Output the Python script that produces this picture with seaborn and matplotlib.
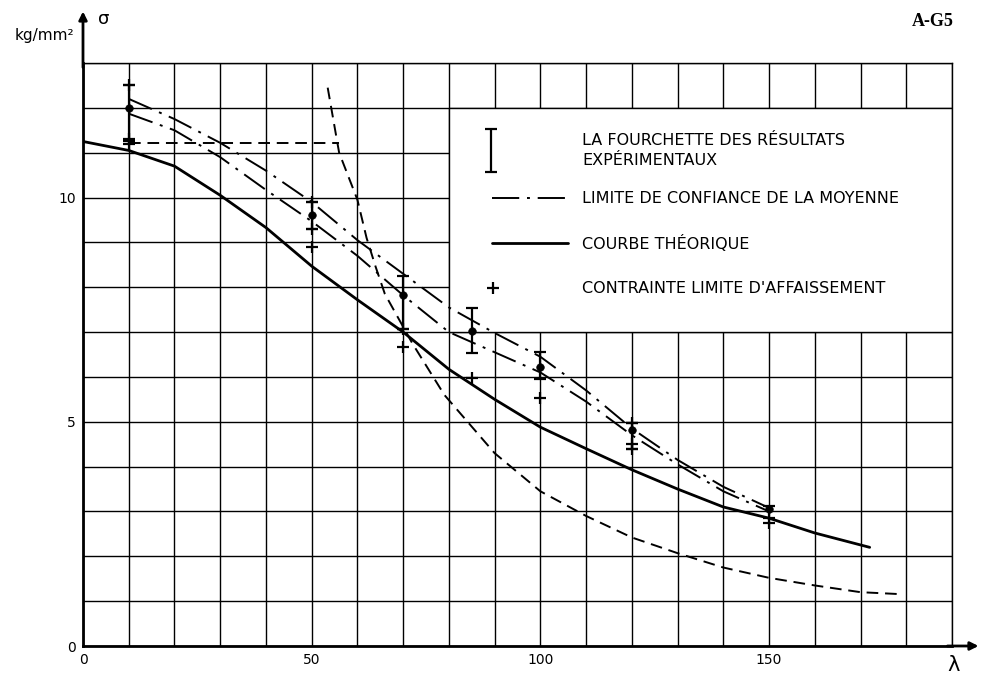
import matplotlib
matplotlib.use("Agg")
import matplotlib.pyplot as plt
import seaborn as sns
import pandas as pd
from matplotlib.patches import Rectangle

# courbe théorique
theo_x = [0, 10, 20, 30, 40, 50, 60, 70, 80, 90, 100, 110, 120, 130, 140, 150, 160, 172]
theo_y = [11.25, 11.05, 10.7, 10.05, 9.33, 8.47, 7.72, 7.0, 6.17, 5.5, 4.88, 4.4, 3.93, 3.5, 3.1, 2.85, 2.52, 2.2]

# limites de confiance de la moyenne
conf_x = [10, 20, 30, 40, 50, 60, 70, 80, 90, 100, 110, 120, 130, 140, 150]
conf_hi = [12.2, 11.75, 11.22, 10.6, 9.9, 9.05, 8.3, 7.55, 6.98, 6.45, 5.7, 4.85, 4.15, 3.55, 3.08]
conf_lo = [11.87, 11.5, 10.9, 10.17, 9.47, 8.7, 7.82, 7.0, 6.55, 6.1, 5.45, 4.7, 4.05, 3.45, 3.0]

# courbe en tirets (Euler) + palier horizontal
euler_x = [53.5, 56, 60, 62, 64, 66, 69, 72, 79, 90, 100, 110, 120, 130, 140, 150, 160, 170, 178]
euler_y = [12.45, 11.0, 9.95, 9.1, 8.45, 7.85, 7.3, 6.75, 5.6, 4.3, 3.45, 2.9, 2.42, 2.07, 1.75, 1.52, 1.35, 1.2, 1.16]
palier_x = [10, 56]
palier_y = [11.22, 11.22]

# fourchette des résultats expérimentaux
bar_x = [10, 50, 70, 85, 100, 120, 150]
bar_lo = [11.25, 9.3, 7.07, 6.53, 5.95, 4.4, 2.85]
bar_hi = [12.5, 9.9, 8.25, 7.53, 6.56, 4.98, 3.12]
bar_mean = [12.0, 9.6, 7.82, 7.02, 6.23, 4.82, 3.05]

# contrainte limite d'affaissement
plus_x = [10, 10, 10, 50, 50, 50, 70, 70, 85, 100, 120, 120, 120, 150]
plus_y = [12.5, 11.3, 11.2, 9.9, 9.3, 8.9, 7.07, 6.67, 5.97, 5.53, 4.98, 4.5, 4.4, 2.75]

legend_labels = ["LA FOURCHETTE DES RÉSULTATS\nEXPÉRIMENTAUX",
                 "LIMITE DE CONFIANCE DE LA MOYENNE",
                 "COURBE THÉORIQUE",
                 "CONTRAINTE LIMITE D'AFFAISSEMENT"]

sns.set_style("white")
plt.rcParams['font.family'] = ['DejaVu Sans']
plt.rcParams['text.color'] = 'black'
plt.rcParams['xtick.color'] = 'black'
plt.rcParams['ytick.color'] = 'black'

fig = plt.figure(figsize=(9.82, 6.77), dpi=100)
ax = fig.add_axes([83 / 982, 31 / 677, 869 / 982, 583 / 677])

dashdot = (0, (13, 4, 1.5, 4))
dash = (0, (6, 3.5))

sns.lineplot(x=theo_x, y=theo_y, ax=ax, color="black", lw=2.0, sort=False, estimator=None, zorder=3)
for ys in (conf_hi, conf_lo):
    sns.lineplot(x=conf_x, y=ys, ax=ax, color="black", lw=1.4, linestyle=dashdot,
                 sort=False, estimator=None, zorder=3)
sns.lineplot(x=euler_x, y=euler_y, ax=ax, color="black", lw=1.4, linestyle=dash,
             sort=False, estimator=None, zorder=3)
sns.lineplot(x=palier_x, y=palier_y, ax=ax, color="black", lw=1.4, linestyle=dash,
             sort=False, estimator=None, zorder=3)

err = pd.DataFrame({"x": bar_x, "lo": bar_lo, "hi": bar_hi, "m": bar_mean})
ax.errorbar(err["x"], err["m"], yerr=[err["m"] - err["lo"], err["hi"] - err["m"]],
            fmt="none", ecolor="black", elinewidth=1.6, capsize=4, capthick=1.6, zorder=4)
sns.scatterplot(x=bar_x, y=bar_mean, ax=ax, color="black", s=30, edgecolor="black", zorder=5)
sns.scatterplot(x=plus_x, y=plus_y, ax=ax, marker="+", color="black", s=70, linewidth=1.6, zorder=5)

ax.set_xlim(0, 190)
ax.set_ylim(0, 13)
ax.set_xticks([0, 50, 100, 150])
ax.set_yticks([0, 5, 10])
ax.set_xticks(range(0, 191, 10), minor=True)
ax.set_yticks(range(0, 14), minor=True)
ax.set_axisbelow(True)
ax.grid(True, which="both", color="black", lw=1.0)
ax.tick_params(which="both", length=0)
ax.tick_params(axis="x", pad=5, labelsize=10)
ax.tick_params(axis="y", pad=5, labelsize=10)
for s in ["top", "right"]:
    ax.spines[s].set_linewidth(1.0)
    ax.spines[s].set_color("black")
for s in ["left", "bottom"]:
    ax.spines[s].set_linewidth(2.0)
    ax.spines[s].set_color("black")

# flèches des axes
ax.annotate("", xy=(0, 14.15), xytext=(0, 12.9), annotation_clip=False,
            arrowprops=dict(arrowstyle="-|>", color="black", lw=2, mutation_scale=12, shrinkA=0, shrinkB=0))
ax.annotate("", xy=(195.8, 0), xytext=(189, 0), annotation_clip=False,
            arrowprops=dict(arrowstyle="-|>", color="black", lw=2, mutation_scale=12, shrinkA=0, shrinkB=0))
ax.text(3.2, 13.98, "σ", fontsize=13, ha="left", va="center")
ax.text(-2.0, 13.62, "kg/mm²", fontsize=11, ha="right", va="center")
ax.text(190.3, -0.2, "λ", fontsize=15, ha="center", va="top")
fig.text(933 / 982, 1 - 21 / 677, "A-G5", fontsize=13, fontweight="bold",
         family=["Liberation Serif", "DejaVu Serif"], ha="center", va="center")

# légende dessinée dans la grille
ax.add_patch(Rectangle((80, 7), 110, 5, facecolor="white", edgecolor="black", lw=1.0, zorder=1))
ax.errorbar([89.3], [11.05], yerr=[[0.47], [0.47]], fmt="none", ecolor="black",
            elinewidth=1.6, capsize=4, capthick=1.6, zorder=4)
ax.plot([89.5, 106], [9.98, 9.98], color="black", lw=1.4, linestyle=(0, (14, 4, 1.5, 4)), zorder=4)
ax.plot([89.5, 106], [8.98, 8.98], color="black", lw=2.0, zorder=4)
ax.plot([89.7], [7.98], marker="+", color="black", ms=8, mew=1.6, zorder=4)
tx = 109.2
fs = 11.5
ax.text(tx, 11.05, legend_labels[0], fontsize=fs, ha="left", va="center", linespacing=1.35, zorder=6)
ax.text(tx, 9.98, legend_labels[1], fontsize=fs, ha="left", va="center", zorder=6)
ax.text(tx, 8.98, legend_labels[2], fontsize=fs, ha="left", va="center", zorder=6)
ax.text(tx, 7.98, legend_labels[3], fontsize=fs, ha="left", va="center", zorder=6)

ax.set_xlabel("")
ax.set_ylabel("")
fig.savefig("out.png", dpi=100)
